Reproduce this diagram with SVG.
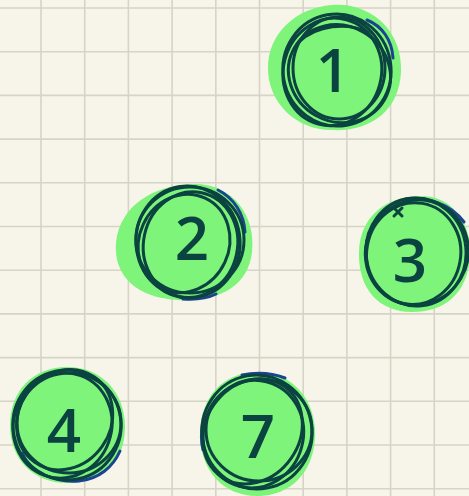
<svg xmlns="http://www.w3.org/2000/svg" width="469" height="496" viewBox="0 0 469 496">
<style>
.grid line{stroke:#d5d4c6;stroke-width:1.6}
.blob{fill:#7ef47a}
.ring{fill:none;stroke:#0a4340;stroke-width:3;stroke-linecap:round}
.ringb{fill:none;stroke:#1c438f;stroke-width:3;stroke-linecap:round}
.num{font-family:"Open Sans","DejaVu Sans",sans-serif;font-size:60px;font-weight:600;fill:#0a4340;text-anchor:middle}
</style>
<rect width="469" height="496" fill="#f7f5e9"/>
<g class="grid">
<line x1="41" y1="0" x2="41" y2="496"/><line x1="84.7" y1="0" x2="84.7" y2="496"/><line x1="128.4" y1="0" x2="128.4" y2="496"/><line x1="172.1" y1="0" x2="172.1" y2="496"/><line x1="215.8" y1="0" x2="215.8" y2="496"/><line x1="259.5" y1="0" x2="259.5" y2="496"/><line x1="303.2" y1="0" x2="303.2" y2="496"/><line x1="346.9" y1="0" x2="346.9" y2="496"/><line x1="390.6" y1="0" x2="390.6" y2="496"/><line x1="434.3" y1="0" x2="434.3" y2="496"/>
<line x1="0" y1="8" x2="469" y2="8"/><line x1="0" y1="51.7" x2="469" y2="51.7"/><line x1="0" y1="95.4" x2="469" y2="95.4"/><line x1="0" y1="139.1" x2="469" y2="139.1"/><line x1="0" y1="182.8" x2="469" y2="182.8"/><line x1="0" y1="226.5" x2="469" y2="226.5"/><line x1="0" y1="270.2" x2="469" y2="270.2"/><line x1="0" y1="313.9" x2="469" y2="313.9"/><line x1="0" y1="357.6" x2="469" y2="357.6"/><line x1="0" y1="401.3" x2="469" y2="401.3"/><line x1="0" y1="445" x2="469" y2="445"/><line x1="0" y1="488.7" x2="469" y2="488.7"/>
</g>
<g id="connectors"></g>
<g id="node-1" transform="translate(337,70)">
<path class="blob" d="M-5,-65 C35,-68 66,-38 64,2 C62,42 32,62 -5,60 C-42,60 -69,32 -69,-2 C-69,-36 -42,-62 -5,-65 Z"/>
<path class="ringb" d="M30,-50 C45,-44 55,-30 56,-12"/>
<ellipse class="ring" cx="0" cy="0" rx="54" ry="56" transform="rotate(-10)"/>
<ellipse class="ring" cx="-4" cy="3" rx="49" ry="54" transform="rotate(15)"/>
<ellipse class="ring" cx="2" cy="-2" rx="46" ry="51"/>
<ellipse class="ring" cx="4" cy="2" rx="52" ry="48" transform="rotate(30)"/>
<path class="ring" d="M-38,-28 C-20,-45 10,-48 30,-38"/>
<text class="num" x="-4" y="22">1</text>
</g>
<g id="node-2" transform="translate(188,242)">
<path class="blob" d="M5,-58 C45,-59 68,-26 64,10 C60,45 30,60 -10,58 C-50,56 -75,35 -72,0 C-68,-36 -35,-57 5,-58 Z"/>
<path class="ringb" d="M30,-52 C46,-44 56,-28 57,-10"/>
<path class="ringb" d="M-5,57 C8,58 20,56 28,52"/>
<ellipse class="ring" cx="0" cy="0" rx="52" ry="56" transform="rotate(-8)"/>
<ellipse class="ring" cx="3" cy="2" rx="47" ry="53" transform="rotate(12)"/>
<ellipse class="ring" cx="-3" cy="3" rx="45" ry="50" transform="rotate(25)"/>
<ellipse class="ring" cx="2" cy="-2" rx="54" ry="53"/>
<text class="num" x="4" y="18">2</text>
</g>
<g id="node-3" transform="translate(416,252)">
<path class="blob" d="M2,-56 C35,-58 56,-30 54,4 C52,40 30,60 -4,60 C-38,60 -58,36 -57,0 C-56,-34 -32,-55 2,-56 Z"/>
<path class="ringb" d="M-10,-53 C10,-56 35,-48 48,-30"/>
<ellipse class="ring" cx="0" cy="0" rx="50" ry="54" transform="rotate(-6)"/>
<ellipse class="ring" cx="-2" cy="2" rx="47" ry="51" transform="rotate(10)"/>
<ellipse class="ring" cx="1" cy="0" rx="51" ry="53" transform="rotate(30)"/>
<path class="ring" d="M-22,-44 L-14,-36 M-22,-36 L-14,-44"/>
<text class="num" x="-6" y="30">3</text>
</g>
<g id="node-4" transform="translate(67,425)">
<path class="blob" d="M0,-58 C35,-58 58,-32 58,2 C58,38 34,58 0,58 C-34,58 -57,34 -57,0 C-57,-34 -34,-58 0,-58 Z"/>
<path class="ringb" d="M-45,28 C-36,48 -12,58 12,56 C32,54 46,42 53,26"/>
<ellipse class="ring" cx="0" cy="0" rx="54" ry="55" transform="rotate(-12)"/>
<ellipse class="ring" cx="-4" cy="2" rx="49" ry="53" transform="rotate(20)"/>
<ellipse class="ring" cx="2" cy="-2" rx="52" ry="50"/>
<ellipse class="ring" cx="-5" cy="-3" rx="46" ry="52" transform="rotate(35)"/>
<text class="num" x="-3" y="27">4</text>
</g>
<g id="node-7" transform="translate(257,432)">
<path class="blob" d="M0,-60 C36,-60 59,-32 58,4 C57,40 34,64 0,64 C-34,64 -57,38 -57,2 C-57,-34 -34,-60 0,-60 Z"/>
<path class="ringb" d="M-15,-57 C0,-60 15,-59 28,-54"/>
<path class="ringb" d="M-54,-10 C-56,0 -56,10 -54,18"/>
<ellipse class="ring" cx="0" cy="0" rx="55" ry="57" transform="rotate(-10)"/>
<ellipse class="ring" cx="-3" cy="3" rx="50" ry="54" transform="rotate(15)"/>
<ellipse class="ring" cx="2" cy="-2" rx="53" ry="51"/>
<ellipse class="ring" cx="-4" cy="2" rx="47" ry="55" transform="rotate(35)"/>
<text class="num" x="1" y="26">7</text>
</g>
</svg>
